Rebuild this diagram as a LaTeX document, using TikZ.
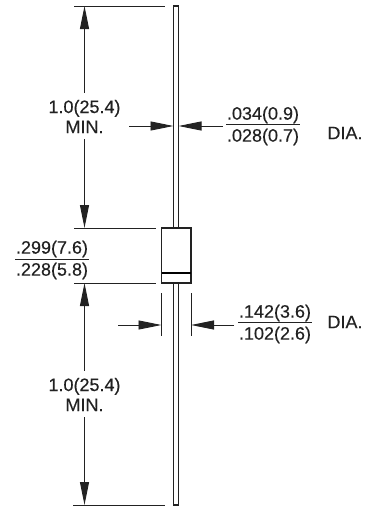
\documentclass[tikz,border=0pt]{standalone}
\usepackage{fontspec}
\setmainfont{Liberation Sans}[RawFeature={embolden=0.3}]
\usepackage{tikz}
\usetikzlibrary{arrows.meta,positioning,calc}
\definecolor{inkdark}{HTML}{222222}
\tikzset{
  dimline/.style={draw=inkdark, line width=0.9pt},
  dimarrow/.style={dimline, -{Triangle[length=23pt,width=9pt]}},
  outline/.style={draw=inkdark, line width=1.1pt},
  dimtext/.style={inner sep=0pt, text=inkdark, font=\fontsize{18}{20}\selectfont, align=center},
  fractext/.style={dimtext, text width=74pt},
}
\begin{document}
\begin{tikzpicture}[x=1pt,y=-1pt]
\useasboundingbox (0,0) rectangle (369,506);

% lead and body
\draw[outline] (173.5,283) -- (173.5,505) -- (178.5,505) -- (178.5,283);
\draw[outline] (173.5,228) -- (173.5,6) -- (178.5,6) -- (178.5,228);
\draw[outline, fill=white] (161.5,228) rectangle (191,283);
\draw[draw=black, line width=2.2pt] (161.5,273) -- (191,273);

% extension lines
\coordinate (topL) at (74,6);
\coordinate (topR) at (165,6);
\coordinate (bodyTL) at (74,228);
\coordinate (bodyTR) at (156,228);
\coordinate (bodyBL) at (74,283);
\coordinate (bodyBR) at (156,283);
\coordinate (botL) at (73,505);
\coordinate (botR) at (165,505);
\draw[dimline] (topL) -- (topR);
\draw[dimline] (bodyTL) -- (bodyTR);
\draw[dimline] (bodyBL) -- (bodyBR);
\draw[dimline] (botL) -- (botR);

% lengths
\node[dimtext] (upperLen) at (84.5,116.5) {1.0(25.4)\\MIN.};
\node[dimtext] (lowerLen) at (84.5,394.5) {1.0(25.4)\\MIN.};
\draw[dimarrow] (upperLen.north) ++(0,-7) -- (84.5,6);
\draw[dimarrow] (upperLen.south) ++(0,6) -- (84.5,228);
\draw[dimarrow] (lowerLen.north) ++(0,-7) -- (84.5,283);
\draw[dimarrow] (lowerLen.south) ++(0,6) -- (84.5,505);

% body length
\node[fractext] (bodyTop) at (52,249) {.299(7.6)};
\node[fractext] (bodyBot) at (52,271) {.228(5.8)};
\draw[dimline] (15,259.5) -- (89,259.5);

% lead diameter
\coordinate (leadL) at (173.5,126);
\coordinate (leadR) at (178.5,126);
\draw[dimarrow] (129,126) -- (leadL);
\draw[dimarrow] (223,126) -- (leadR);
\node[fractext] (leadTop) at (263,115) {.034(0.9)};
\node[fractext] (leadBot) at (263,137) {.028(0.7)};
\draw[dimline] (226,124.5) -- (300,124.5);
\node[dimtext] (leadDia) at (345,133) {DIA.};

% body diameter
\coordinate (caseL) at (161.5,325);
\coordinate (caseR) at (191,325);
\draw[dimline] (161.5,293) -- (161.5,336);
\draw[dimline] (191,293) -- (191,336);
\draw[dimarrow] (118,325) -- (caseL);
\draw[dimarrow] (234,325) -- (caseR);
\node[fractext] (caseTop) at (275,313) {.142(3.6)};
\node[fractext] (caseBot) at (275,335) {.102(2.6)};
\draw[dimline] (238,322.5) -- (312,322.5);
\node[dimtext] (caseDia) at (345,322) {DIA.};
\end{tikzpicture}
\end{document}
